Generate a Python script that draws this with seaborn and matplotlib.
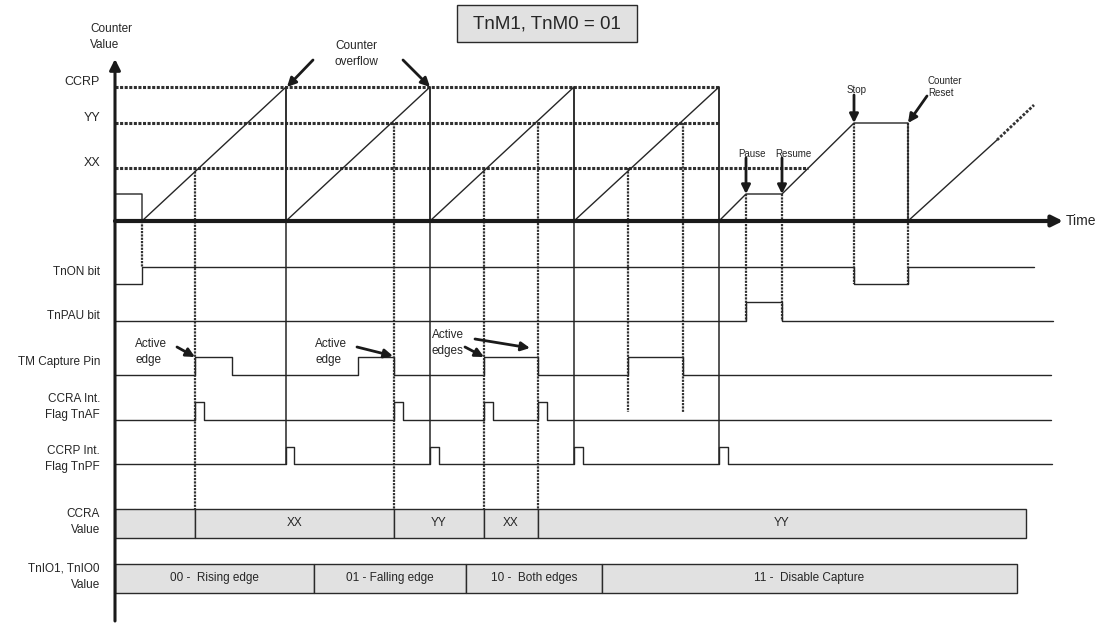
import numpy as np
import pandas as pd
import seaborn as sns
import matplotlib.pyplot as plt
from matplotlib.patches import Rectangle

# timing diagram, TnM1/TnM0 = 01 (capture input mode)
# all values below (pixel units)

level_names = ["CCRP", "YY", "XX"]
level_y = [87, 123, 168]
level_end = [719, 719, 808]
zero_y = 221

# counter trace
counter_x = [115, 142, 142, 286, 286, 430, 430, 574, 574, 719, 719, 746, 782, 854, 908, 908, 997]
counter_y = [194, 194, 221, 87, 221, 87, 221, 87, 221, 87, 221, 194, 194, 123, 123, 221, 140]
tail_x = [997, 1034]
tail_y = [140, 105]

# events
overflow_x = [286, 430, 574, 719]
capture_x = [195, 394, 484, 538]
capture_top = [168, 123, 168, 123]
nocapture_x = [628, 683]
nocapture_top = [168, 123]
control_x = [142, 746, 782, 854, 908]
control_top = [221, 194, 194, 123, 123]
control_bot = [267, 321, 321, 284, 284]

# digital signals
signal_names = ["TnON bit", "TnPAU bit", "TM Capture Pin", "CCRA Int.\nFlag TnAF", "CCRP Int.\nFlag TnPF"]
signal_high = [267, 302, 357, 402, 447]
signal_low = [284, 321, 375, 420, 464]
signal_start = ["low", "low", "low", "low", "low"]
ton_edges = [142, 854, 908]
tpau_edges = [746, 782]
pin_edges = [195, 232, 358, 394, 484, 538, 628, 683]
taf_edges = [195, 204, 394, 403, 484, 493, 538, 547]
tpf_edges = [286, 294, 430, 439, 574, 583, 719, 728]
signal_edges = [ton_edges, tpau_edges, pin_edges, taf_edges, tpf_edges]
signal_end = [1034, 1053, 1051, 1051, 1052]
signal_label_y = [272, 316, 362, 407, 459]

# value bars
ccra_bounds = [115, 195, 394, 484, 538, 1026]
ccra_text = ["", "XX", "YY", "XX", "YY"]
tnio_bounds = [115, 314, 466, 602, 1017]
tnio_text = ["00 -  Rising edge", "01 - Falling edge", "10 -  Both edges", "11 -  Disable Capture"]

sns.set_theme(style="white")
plt.rcParams['font.family'] = ['Liberation Sans', 'DejaVu Sans']

LC = "#262626"
FS = 8.5
fig = plt.figure(figsize=(10.95, 6.23), dpi=100)
ax = fig.add_axes([0, 0, 1, 1])
ax.set_xlim(0, 1095)
ax.set_ylim(623, 0)
ax.axis("off")

# level guide lines
for name, y, xe in zip(level_names, level_y, level_end):
    ax.plot([115, xe], [y, y], color="#303030", lw=2.2, ls=(0, (1, 0.5)))
    ax.text(100, y - 5, name, ha="right", va="center", fontsize=9, color=LC)

# axes arrows
ax.annotate("", xy=(115, 59), xytext=(115, 621),
            arrowprops=dict(arrowstyle="-|>", lw=2.2, color="#1a1a1a", mutation_scale=16, shrinkA=0, shrinkB=0))
ax.annotate("", xy=(1063, zero_y), xytext=(115, zero_y),
            arrowprops=dict(arrowstyle="-|>", lw=3.0, color="#1a1a1a", mutation_scale=16, shrinkA=0, shrinkB=0))
ax.text(1066, zero_y, "Time", ha="left", va="center", fontsize=10, color=LC)
ax.text(90, 37, "Counter\nValue", ha="left", va="center", fontsize=FS, color=LC, linespacing=1.45)

# verticals
for x in overflow_x:
    ax.plot([x, x], [87, 464], color=LC, lw=1.1)
for x, t in zip(capture_x, capture_top):
    ax.plot([x, x], [t, 509], color="#333333", lw=1.6, ls=(0, (1, 0.5)))
for x, t in zip(nocapture_x, nocapture_top):
    ax.plot([x, x], [t, 412], color="#333333", lw=1.6, ls=(0, (1, 0.5)))
for x, t, b in zip(control_x, control_top, control_bot):
    ax.plot([x, x], [t, b], color="#333333", lw=1.6, ls=(0, (1, 0.5)))

# counter trace
sns.lineplot(x=counter_x, y=counter_y, sort=False, estimator=None, ax=ax, color=LC, lw=1.0)
sns.lineplot(x=tail_x, y=tail_y, sort=False, estimator=None, ax=ax, color="#333333", lw=2.0,
             linestyle=(0, (1, 0.6)))

# digital signals
rows = []
for name, hi, lo, st, edges, end in zip(signal_names, signal_high, signal_low, signal_start,
                                        signal_edges, signal_end):
    state = lo if st == "low" else hi
    xs, ys = [115], [state]
    for e in edges:
        nxt = hi if state == lo else lo
        xs += [e, e]
        ys += [state, nxt]
        state = nxt
    xs.append(end)
    ys.append(state)
    rows += [{"x": a, "y": b, "signal": name} for a, b in zip(xs, ys)]
sig_df = pd.DataFrame(rows)
sns.lineplot(data=sig_df, x="x", y="y", units="signal", estimator=None, sort=False,
             ax=ax, color=LC, lw=1.0)
for name, y in zip(signal_names, signal_label_y):
    ax.text(100, y, name, ha="right", va="center", fontsize=FS, color=LC, linespacing=1.35)

# value bars
ax.barh(523.5, np.diff(ccra_bounds), left=ccra_bounds[:-1], height=29,
        color="#e1e1e1", edgecolor="#2a2a2a", lw=1.0)
for l, r, t in zip(ccra_bounds[:-1], ccra_bounds[1:], ccra_text):
    ax.text((l + r) / 2, 523.5, t, ha="center", va="center", fontsize=FS, color=LC)
ax.barh(578.5, np.diff(tnio_bounds), left=tnio_bounds[:-1], height=29,
        color="#e1e1e1", edgecolor="#2a2a2a", lw=1.0)
for l, r, t in zip(tnio_bounds[:-1], tnio_bounds[1:], tnio_text):
    ax.text((l + r) / 2, 578.5, t, ha="center", va="center", fontsize=FS, color=LC)
ax.text(100, 522, "CCRA\nValue", ha="right", va="center", fontsize=FS, color=LC, linespacing=1.55)
ax.text(100, 577, "TnIO1, TnIO0\nValue", ha="right", va="center", fontsize=FS, color=LC, linespacing=1.45)

# title box
ax.add_patch(Rectangle((457, 5), 180, 37, fc="#e1e1e1", ec="#2a2a2a", lw=1.0))
ax.text(547, 24, "TnM1, TnM0 = 01", ha="center", va="center", fontsize=13.5, color=LC)

# annotations
arrow = dict(arrowstyle="-|>", lw=2.0, color="#1a1a1a", mutation_scale=13, shrinkA=0, shrinkB=0)
ax.text(356, 54, "Counter\noverflow", ha="center", va="center", fontsize=FS, color=LC, linespacing=1.45)
ax.annotate("", xy=(287, 87), xytext=(313, 60), arrowprops=arrow)
ax.annotate("", xy=(430, 87), xytext=(403, 60), arrowprops=arrow)

ax.text(135, 352, "Active\nedge", ha="left", va="center", fontsize=FS, color=LC, linespacing=1.35)
ax.annotate("", xy=(195, 357), xytext=(177, 347), arrowprops=arrow)
ax.text(315, 352, "Active\nedge", ha="left", va="center", fontsize=FS, color=LC, linespacing=1.35)
ax.annotate("", xy=(393, 356), xytext=(357, 347), arrowprops=arrow)
ax.text(432, 343, "Active\nedges", ha="left", va="center", fontsize=FS, color=LC, linespacing=1.35)
ax.annotate("", xy=(484, 357), xytext=(465, 347), arrowprops=arrow)
ax.annotate("", xy=(530, 348), xytext=(475, 339), arrowprops=arrow)

ax.text(752, 154, "Pause", ha="center", va="center", fontsize=7, color=LC)
ax.annotate("", xy=(746, 194), xytext=(746, 158), arrowprops=arrow)
ax.text(793, 154, "Resume", ha="center", va="center", fontsize=7, color=LC)
ax.annotate("", xy=(782, 194), xytext=(782, 158), arrowprops=arrow)
ax.text(857, 90, "Stop", ha="center", va="center", fontsize=7, color=LC)
ax.annotate("", xy=(854, 123), xytext=(854, 95), arrowprops=arrow)
ax.text(928, 87, "Counter\nReset", ha="left", va="center", fontsize=7, color=LC, linespacing=1.3)
ax.annotate("", xy=(908, 123), xytext=(927, 96), arrowprops=arrow)

fig.savefig("out.png", dpi=100)
